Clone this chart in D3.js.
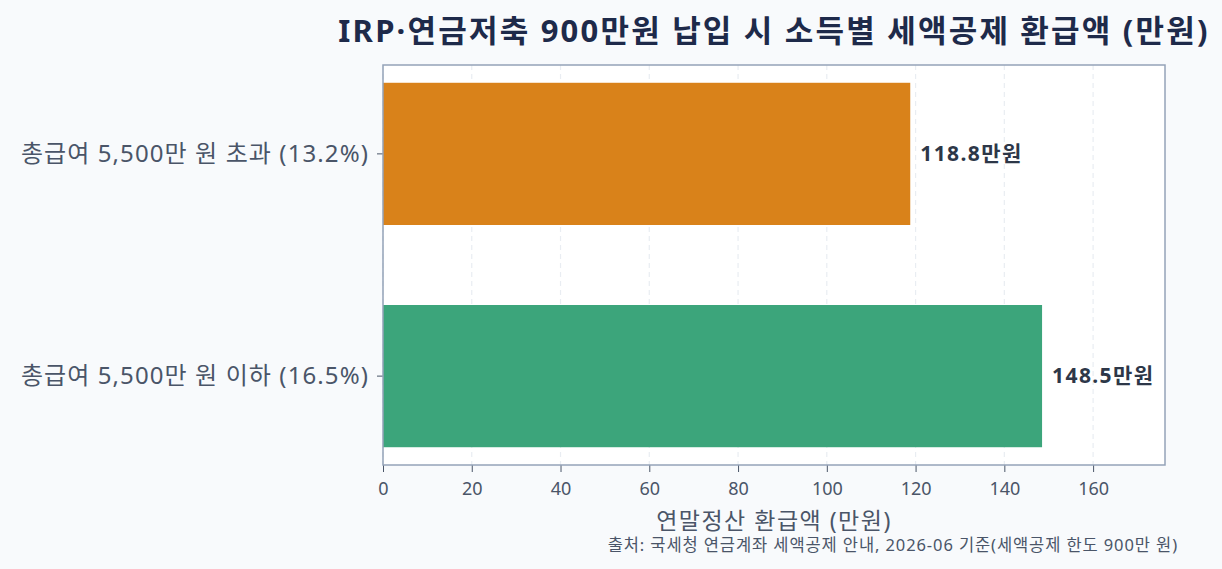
<!DOCTYPE html>
<html>
<head>
<meta charset="utf-8">
<script src="https://cdn.jsdelivr.net/npm/d3@7"></script>
<style>
  body { margin: 0; background: #f8fafc; }
  svg { display: block; font-family: "Noto Sans", "Noto Sans CJK KR", sans-serif; }
</style>
</head>
<body>
<div id="chart"></div>
<script>
// data, top bar first
const categories = ['총급여 5,500만 원 초과 (13.2%)', '총급여 5,500만 원 이하 (16.5%)'];
const refunds = [118.8, 148.5];
const barColors = ['#d9821a', '#3ca57b'];
const xTicks = [0, 20, 40, 60, 80, 100, 120, 140, 160];

const fontStack = '"Noto Sans", "Noto Sans CJK KR", sans-serif';
const width = 1222, height = 569;
const margin = { top: 65, right: 57, bottom: 104, left: 383 };
const plotW = width - margin.left - margin.right;
const plotH = height - margin.top - margin.bottom;

const svg = d3.select('#chart')
  .append('svg')
  .attr('width', width)
  .attr('height', height)
  .style('background-color', '#f8fafc');

const xScale = d3.scaleLinear()
  .domain([0, 176.2])
  .range([0, plotW]);

const yScale = d3.scaleBand()
  .domain(categories)
  .range([0, plotH])
  .paddingInner(0.36)
  .paddingOuter(0.08);

const g = svg.append('g')
  .attr('transform', 'translate(' + margin.left + ',' + margin.top + ')');

g.append('rect')
  .attr('width', plotW)
  .attr('height', plotH)
  .attr('fill', '#ffffff');

// dashed grid
g.selectAll('.grid')
  .data(xTicks)
  .enter()
    .append('line')
    .attr('class', 'grid')
    .attr('x1', d => xScale(d))
    .attr('x2', d => xScale(d))
    .attr('y1', 0)
    .attr('y2', plotH)
    .attr('stroke', '#e9edf2')
    .attr('stroke-width', 1.2)
    .attr('stroke-dasharray', '5,4');

g.selectAll('.bar')
  .data(refunds)
  .enter()
    .append('rect')
    .attr('class', 'bar')
    .attr('x', 0)
    .attr('y', (d, i) => yScale(categories[i]))
    .attr('width', d => xScale(d))
    .attr('height', yScale.bandwidth())
    .attr('fill', (d, i) => barColors[i]);

g.selectAll('.val')
  .data(refunds)
  .enter()
    .append('text')
    .attr('class', 'val')
    .attr('x', d => xScale(d) + 10)
    .attr('y', (d, i) => yScale(categories[i]) + yScale.bandwidth() / 2)
    .attr('dy', '0.35em')
    .attr('font-size', 21)
    .attr('font-weight', 'bold')
    .attr('letter-spacing', 1.4)
    .attr('fill', '#2d3748')
    .text(d => d.toFixed(1) + '만원');

// axes
const xAxis = d3.axisBottom(xScale).tickValues(xTicks).tickSize(7).tickPadding(10);
const xg = g.append('g')
  .attr('transform', 'translate(0,' + plotH + ')')
  .call(xAxis);
xg.select('.domain').remove();
xg.selectAll('.tick line').attr('stroke', '#4a5568');
xg.selectAll('.tick text')
  .attr('font-size', 18)
  .attr('fill', '#4a5568')
  .attr('font-family', fontStack);

const yAxis = d3.axisLeft(yScale).tickSize(6).tickPadding(8);
const yg = g.append('g').call(yAxis);
yg.select('.domain').remove();
yg.selectAll('.tick line').attr('stroke', '#4a5568');
yg.selectAll('.tick text')
  .attr('font-size', 24)
  .attr('letter-spacing', 1.1)
  .attr('fill', '#4a5568')
  .attr('font-family', fontStack);

// frame
g.append('rect')
  .attr('width', plotW)
  .attr('height', plotH)
  .attr('fill', 'none')
  .attr('stroke', '#94a3b8')
  .attr('stroke-width', 1.5);

svg.append('text')
  .attr('x', margin.left + plotW / 2)
  .attr('y', 42)
  .attr('text-anchor', 'middle')
  .attr('font-size', 31)
  .attr('font-weight', 'bold')
  .attr('letter-spacing', 2.2)
  .attr('fill', '#1e2a4a')
  .text('IRP·연금저축 900만원 납입 시 소득별 세액공제 환급액 (만원)');

svg.append('text')
  .attr('x', margin.left + plotW / 2)
  .attr('y', 529)
  .attr('text-anchor', 'middle')
  .attr('font-size', 23)
  .attr('letter-spacing', 1.5)
  .attr('fill', '#4a5568')
  .text('연말정산 환급액 (만원)');

svg.append('text')
  .attr('x', 1178)
  .attr('y', 551)
  .attr('text-anchor', 'end')
  .attr('font-size', 16.5)
  .attr('letter-spacing', 0.9)
  .attr('fill', '#4a5568')
  .text('출처: 국세청 연금계좌 세액공제 안내, 2026-06 기준(세액공제 한도 900만 원)');
</script>
</body>
</html>
